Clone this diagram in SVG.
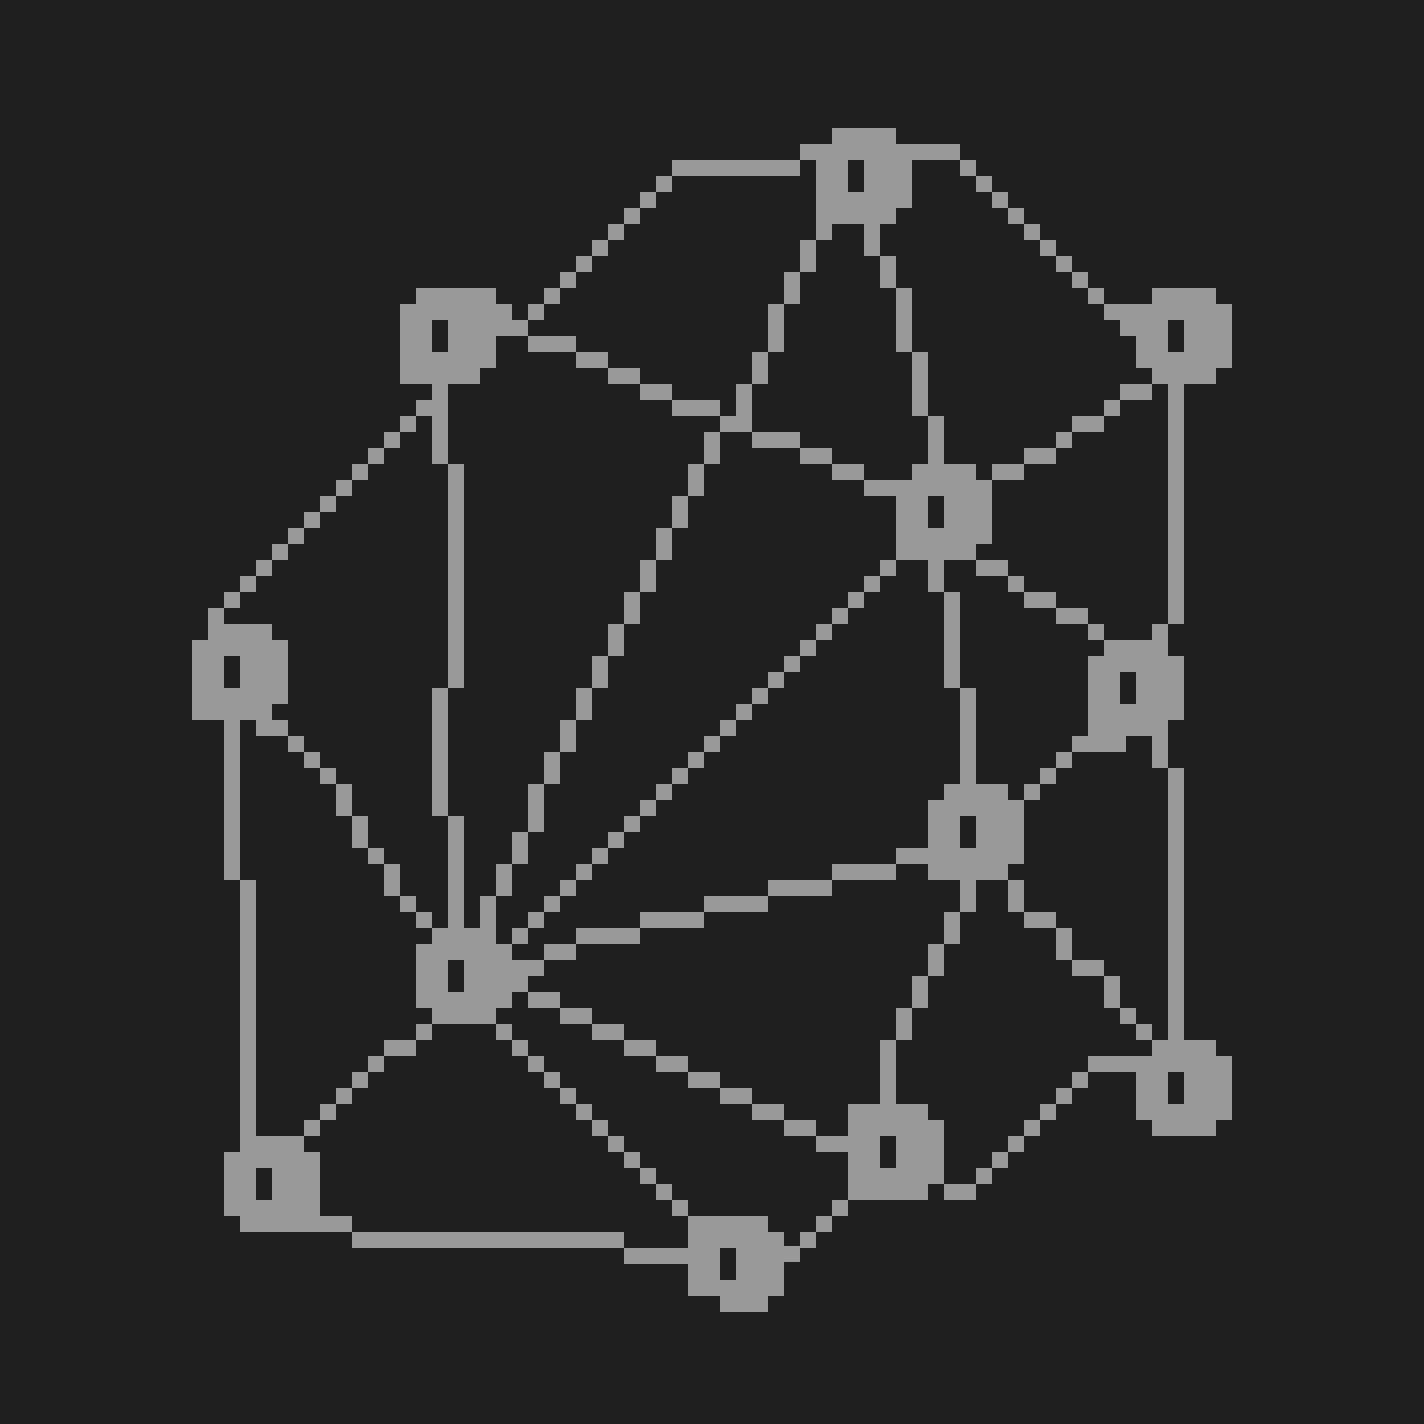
<svg xmlns="http://www.w3.org/2000/svg" width="1424" height="1424" viewBox="0 0 1424 1424" shape-rendering="crispEdges">
<style>
.bg{fill:#1f1f1f}
.px{fill:#999999}
</style>
<defs>
<path id="node" fill-rule="evenodd" d="M16 0h64v16h16v64h-16v16h-64v-16h-16v-64h16zM32 32h16v32h-16z"/>
</defs>
<rect class="bg" width="1424" height="1424"/>
<g id="connectors" class="px">
<path id="e-b-a" d="M528 304h16v16h-16zM544 288h16v16h-16zM560 272h16v16h-16zM576 256h16v16h-16zM592 240h16v16h-16zM608 224h16v16h-16zM624 208h16v16h-16zM640 192h16v16h-16zM656 176h16v16h-16zM672 160h128v16h-128zM800 144h16v16h-16z"/>
<path id="e-a-d" d="M864 224h16v32h-16zM880 256h16v32h-16zM896 288h16v64h-16zM912 352h16v64h-16zM928 416h16v48h-16z"/>
<path id="e-a-c" d="M912 144h48v16h-48zM960 160h16v16h-16zM976 176h16v16h-16zM992 192h16v16h-16zM1008 208h16v16h-16zM1024 224h16v16h-16zM1040 240h16v16h-16zM1056 256h16v16h-16zM1072 272h16v16h-16zM1088 288h16v16h-16zM1104 304h48v16h-48zM1120 320h16v16h-16z"/>
<path id="e-a-h" d="M816 208h16v32h-16zM800 240h16v32h-16zM784 272h16v32h-16zM768 304h16v48h-16zM752 352h16v32h-16zM736 384h16v48h-16zM720 416h16v16h-16zM704 432h16v32h-16zM688 464h16v32h-16zM672 496h16v32h-16zM656 528h16v32h-16zM640 560h16v32h-16zM624 592h16v32h-16zM608 624h16v32h-16zM592 656h16v32h-16zM576 688h16v32h-16zM560 720h16v32h-16zM544 752h16v32h-16zM528 784h16v48h-16zM512 832h16v32h-16zM496 864h16v32h-16zM480 896h16v32h-16z"/>
<path id="e-b-d" d="M480 288h16v16h-16zM496 304h16v16h-16zM496 320h32v16h-32zM528 336h48v16h-48zM576 352h32v16h-32zM608 368h32v16h-32zM640 384h32v16h-32zM672 400h48v16h-48zM720 416h32v16h-32zM752 432h48v16h-48zM800 448h32v16h-32zM832 464h32v16h-32zM864 480h32v16h-32z"/>
<path id="e-b-h" d="M400 368h16v16h-16zM432 384h16v80h-16zM448 464h16v224h-16zM432 688h16v128h-16zM448 816h16v112h-16z"/>
<path id="e-b-e" d="M416 400h16v16h-16zM400 416h16v16h-16zM384 432h16v16h-16zM368 448h16v16h-16zM352 464h16v16h-16zM336 480h16v16h-16zM320 496h16v16h-16zM304 512h16v16h-16zM288 528h16v16h-16zM272 544h16v16h-16zM256 560h16v16h-16zM240 576h16v16h-16zM224 592h16v16h-16zM208 608h16v16h-16z"/>
<path id="e-c-d" d="M1120 384h32v16h-32zM1104 400h16v16h-16zM1072 416h32v16h-32zM1056 432h16v16h-16zM1024 448h32v16h-32zM992 464h32v16h-32z"/>
<path id="e-c-f" d="M1168 384h16v240h-16zM1152 624h16v16h-16z"/>
<path id="e-d-f" d="M976 560h32v16h-32zM1008 576h16v16h-16zM1024 592h32v16h-32zM1056 608h32v16h-32zM1088 624h16v16h-16z"/>
<path id="e-d-g" d="M896 544h16v16h-16zM928 560h16v32h-16zM944 592h16v96h-16zM960 688h16v96h-16z"/>
<path id="e-d-h" d="M880 560h16v16h-16zM864 576h16v16h-16zM848 592h16v16h-16zM832 608h16v16h-16zM816 624h16v16h-16zM800 640h16v16h-16zM784 656h16v16h-16zM768 672h16v16h-16zM752 688h16v16h-16zM736 704h16v16h-16zM720 720h16v16h-16zM704 736h16v16h-16zM688 752h16v16h-16zM672 768h16v16h-16zM656 784h16v16h-16zM640 800h16v16h-16zM624 816h16v16h-16zM608 832h16v16h-16zM592 848h16v16h-16zM576 864h16v16h-16zM560 880h16v16h-16zM544 896h16v16h-16zM528 912h16v16h-16zM512 928h16v16h-16z"/>
<path id="e-e-k" d="M192 704h16v16h-16zM224 720h16v160h-16zM240 880h16v256h-16z"/>
<path id="e-e-h" d="M256 720h32v16h-32zM288 736h16v16h-16zM304 752h16v16h-16zM320 768h16v16h-16zM336 784h16v32h-16zM352 816h16v32h-16zM368 848h16v16h-16zM384 864h16v32h-16zM400 896h16v16h-16zM416 912h16v16h-16z"/>
<path id="e-f-g" d="M1088 720h16v16h-16zM1072 736h54v16h-54zM1056 752h16v16h-16zM1040 768h16v16h-16zM1024 784h16v16h-16z"/>
<path id="e-f-i" d="M1152 736h16v32h-16zM1168 768h16v272h-16z"/>
<path id="e-g-h" d="M928 864h16v16h-16zM896 848h32v16h-32zM832 864h64v16h-64zM768 880h64v16h-64zM704 896h64v16h-64zM640 912h64v16h-64zM576 928h64v16h-64zM544 944h32v16h-32zM512 960h32v16h-32zM512 976h16v16h-16z"/>
<path id="e-g-j" d="M960 880h16v32h-16zM944 912h16v32h-16zM928 944h16v32h-16zM912 976h16v32h-16zM896 1008h16v32h-16zM880 1040h16v64h-16z"/>
<path id="e-g-i" d="M1008 880h16v32h-16zM1024 912h32v16h-32zM1056 928h16v32h-16zM1072 960h32v16h-32zM1104 976h16v32h-16zM1120 1008h16v16h-16zM1136 1024h16v16h-16z"/>
<path id="e-i-j" d="M1088 1056h48v16h-48zM1072 1072h16v16h-16zM1056 1088h16v16h-16zM1040 1104h16v16h-16zM1024 1120h16v16h-16zM1008 1136h16v16h-16zM992 1152h16v16h-16zM976 1168h16v16h-16zM944 1184h32v16h-32z"/>
<path id="e-h-j" d="M528 992h32v16h-32zM560 1008h32v16h-32zM592 1024h32v16h-32zM624 1040h32v16h-32zM656 1056h32v16h-32zM688 1072h32v16h-32zM720 1088h32v16h-32zM752 1104h32v16h-32zM784 1120h32v16h-32zM816 1136h32v16h-32zM848 1104h16v16h-16zM848 1184h16v16h-16z"/>
<path id="e-h-l" d="M496 1024h16v16h-16zM512 1040h16v16h-16zM528 1056h16v16h-16zM544 1072h16v16h-16zM560 1088h16v16h-16zM576 1104h16v16h-16zM592 1120h16v16h-16zM608 1136h16v16h-16zM624 1152h16v16h-16zM640 1168h16v16h-16zM656 1184h16v16h-16zM672 1200h16v16h-16z"/>
<path id="e-h-k" d="M416 1024h16v16h-16zM384 1040h32v16h-32zM368 1056h16v16h-16zM352 1072h16v16h-16zM336 1088h16v16h-16zM320 1104h16v16h-16zM304 1120h16v16h-16z"/>
<path id="e-k-l" d="M304 1216h48v16h-48zM352 1232h272v16h-272zM624 1248h64v16h-64z"/>
<path id="e-l-j" d="M688 1216h16v16h-16zM784 1246h16v16h-16zM800 1232h16v16h-16zM816 1216h16v16h-16zM832 1200h16v16h-16z"/>
</g>
<g id="node-a" class="px"><use href="#node" x="816" y="128"/></g>
<g id="node-b" class="px"><use href="#node" x="400" y="288"/></g>
<g id="node-c" class="px"><use href="#node" x="1136" y="288"/></g>
<g id="node-d" class="px"><use href="#node" x="896" y="464"/></g>
<g id="node-e" class="px"><use href="#node" x="192" y="624"/></g>
<g id="node-f" class="px"><use href="#node" x="1088" y="640"/></g>
<g id="node-g" class="px"><use href="#node" x="928" y="784"/></g>
<g id="node-h" class="px"><use href="#node" x="416" y="928"/></g>
<g id="node-i" class="px"><use href="#node" x="1136" y="1040"/></g>
<g id="node-j" class="px"><use href="#node" x="848" y="1104"/></g>
<g id="node-k" class="px"><use href="#node" x="224" y="1136"/></g>
<g id="node-l" class="px"><path fill-rule="evenodd" d="M688 1232h16v-16h64v16h16v64h-16v16h-48v-16h-32zM720 1248h16v32h-16z"/></g>
</svg>
